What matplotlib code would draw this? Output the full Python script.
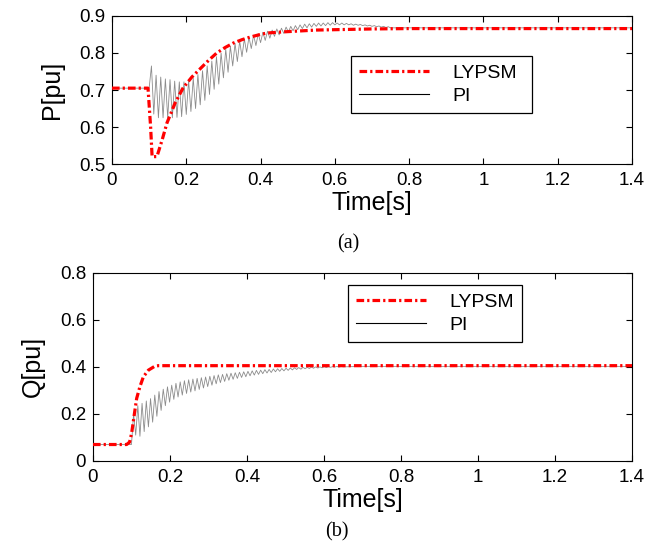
import numpy as np
import matplotlib
matplotlib.use("Agg")
import matplotlib.pyplot as plt

plt.rcParams['font.family'] = ['Liberation Sans', 'DejaVu Sans']
plt.rcParams['lines.scale_dashes'] = False

# ---------------- Data: panel (a) active power P ----------------
p_lyp_t = [0.0, 0.097, 0.104, 0.108, 0.121, 0.135, 0.148, 0.17, 0.191, 0.215, 0.237,
           0.26, 0.282, 0.305, 0.327, 0.35, 0.372, 0.395, 0.417, 0.46, 0.55, 0.7, 0.8, 1.4]
p_lyp_v = [0.705, 0.705, 0.60, 0.52, 0.52, 0.565, 0.611, 0.665, 0.705, 0.735, 0.757,
           0.78, 0.80, 0.815, 0.827, 0.836, 0.843, 0.849, 0.854, 0.857, 0.862, 0.865, 0.866, 0.866]

p_pi_t0 = 0.1      # first sample of the PI extrema sequence
p_pi_dt = 0.00625  # half period of the PI oscillation
p_pi_v = [0.705, 0.765, 0.635, 0.740, 0.625, 0.735, 0.625, 0.730, 0.625, 0.728,
          0.625, 0.724, 0.626, 0.722, 0.628, 0.722, 0.634, 0.726, 0.642, 0.732,
          0.650, 0.742, 0.660, 0.752, 0.672, 0.765, 0.688, 0.778, 0.702, 0.790,
          0.716, 0.800, 0.733, 0.810, 0.748, 0.818, 0.765, 0.826, 0.777, 0.832,
          0.790, 0.838, 0.802, 0.843, 0.812, 0.848, 0.820, 0.852, 0.828, 0.856,
          0.834, 0.859, 0.840, 0.862, 0.845, 0.865, 0.849, 0.867, 0.853, 0.870,
          0.857, 0.872, 0.860, 0.874, 0.863, 0.876, 0.866, 0.878, 0.868, 0.879,
          0.870, 0.880, 0.872, 0.881, 0.873, 0.881, 0.874, 0.882, 0.875, 0.882,
          0.876, 0.881, 0.876, 0.881, 0.876, 0.880, 0.876, 0.879, 0.875, 0.878,
          0.875, 0.877, 0.874, 0.876, 0.873, 0.875, 0.872, 0.874, 0.871, 0.873,
          0.870, 0.872, 0.869, 0.871, 0.868]
p_pi_head_t = [0.0]
p_pi_head_v = [0.705]
p_pi_tail_t = [0.8, 1.4]
p_pi_tail_v = [0.868, 0.868]

# ---------------- Data: panel (b) reactive power Q ----------------
q_lyp_t = [0.0, 0.0875, 0.095, 0.1005, 0.1065, 0.1135, 0.122, 0.131, 0.144, 0.161, 0.17, 1.4]
q_lyp_v = [0.07, 0.07, 0.08, 0.118, 0.188, 0.266, 0.316, 0.358, 0.386, 0.403, 0.405, 0.405]

q_pi_t0 = 0.1
q_pi_dt = 0.0055
q_pi_v = [0.070, 0.200, 0.110, 0.235, 0.105, 0.245, 0.125, 0.255, 0.145, 0.265,
          0.165, 0.280, 0.190, 0.295, 0.215, 0.305, 0.235, 0.315, 0.250, 0.322,
          0.262, 0.330, 0.272, 0.336, 0.280, 0.341, 0.287, 0.345, 0.293, 0.348,
          0.298, 0.351, 0.304, 0.354, 0.310, 0.357, 0.316, 0.360, 0.322, 0.363,
          0.328, 0.366, 0.333, 0.368, 0.338, 0.371, 0.343, 0.373, 0.347, 0.375,
          0.351, 0.377, 0.355, 0.379, 0.358, 0.381, 0.362, 0.383, 0.365, 0.385,
          0.368, 0.386, 0.371, 0.388, 0.374, 0.389, 0.376, 0.391, 0.379, 0.392,
          0.381, 0.393, 0.383, 0.394, 0.385, 0.395, 0.387, 0.396, 0.389, 0.397,
          0.390, 0.398, 0.392, 0.398, 0.393, 0.399, 0.394, 0.400, 0.395, 0.400,
          0.396, 0.401, 0.397, 0.401, 0.398, 0.401, 0.399, 0.402, 0.399, 0.402,
          0.400]
q_pi_head_t = [0.0]
q_pi_head_v = [0.07]
q_pi_tail_t = [0.7, 1.4]
q_pi_tail_v = [0.402, 0.402]

x_ticks = [0, 0.2, 0.4, 0.6, 0.8, 1.0, 1.2, 1.4]
x_ticklabels = ['0', '0.2', '0.4', '0.6', '0.8', '1', '1.2', '1.4']
p_yticks = [0.5, 0.6, 0.7, 0.8, 0.9]
q_yticks = [0, 0.2, 0.4, 0.6, 0.8]
series_names = ['LYPSM', 'PI']


def pi_series(t0, dt, vals, head_t, head_v, tail_t, tail_v):
    t = t0 + dt * np.arange(len(vals))
    return (np.concatenate([head_t, t, tail_t]),
            np.concatenate([head_v, vals, tail_v]))


fig = plt.figure(figsize=(6.65, 5.44), dpi=100)
axA = fig.add_axes([0.1684, 0.6985, 0.782, 0.2721])
axB = fig.add_axes([0.1398, 0.1526, 0.8106, 0.3461])

red_dash = (0, (5.5, 2.2, 1.6, 2.2))

for ax, lt, lv, pit, yt, ylim, ylab, legbox, ylpad in [
    (axA, p_lyp_t, p_lyp_v,
     pi_series(p_pi_t0, p_pi_dt, p_pi_v, p_pi_head_t, p_pi_head_v, p_pi_tail_t, p_pi_tail_v),
     p_yticks, (0.5, 0.9), 'P[pu]', (0.46, 0.351, 0.348, 0.372), 11),
    (axB, q_lyp_t, q_lyp_v,
     pi_series(q_pi_t0, q_pi_dt, q_pi_v, q_pi_head_t, q_pi_head_v, q_pi_tail_t, q_pi_tail_v),
     q_yticks, (0, 0.8), 'Q[pu]', (0.473, 0.643, 0.323, 0.281), 11),
]:
    ax.plot(pit[0], pit[1], color='#8c8c8c', lw=0.6, zorder=2)
    ax.plot(lt, lv, color='#ff0000', lw=2.3, linestyle=red_dash, zorder=3)
    # legend proxies
    h1, = ax.plot([], [], color='#ff0000', lw=2.3, linestyle=red_dash)
    h2, = ax.plot([], [], color='black', lw=0.8)
    leg = ax.legend([h1, h2], series_names, loc='center', bbox_to_anchor=legbox,
                    mode='expand', fontsize=14, handlelength=3.6, handletextpad=1.2,
                    borderaxespad=0, fancybox=False, framealpha=1, edgecolor='black',
                    labelspacing=0.3, borderpad=0.4)
    leg.get_frame().set_linewidth(0.9)
    ax.set_xlim(0, 1.4)
    ax.set_ylim(*ylim)
    ax.set_xticks(x_ticks)
    ax.set_xticklabels(x_ticklabels)
    ax.set_yticks(yt)
    ax.set_yticklabels(['%g' % v for v in yt])
    ax.tick_params(direction='in', top=True, right=True, length=4, width=0.8,
                   labelsize=13.5)
    ax.tick_params(axis='x', pad=6)
    ax.tick_params(axis='y', pad=5)
    for s in ax.spines.values():
        s.set_linewidth(0.8)
    ax.set_xlabel('Time[s]', fontsize=18, labelpad=1)
    ax.set_ylabel(ylab, fontsize=18, labelpad=ylpad)

fig.text(0.524, 0.552, '(a)', ha='center', va='center', fontsize=14.5,
         family=['Liberation Serif', 'DejaVu Serif'])
fig.text(0.507, 0.023, '(b)', ha='center', va='center', fontsize=14.5,
         family=['Liberation Serif', 'DejaVu Serif'])

fig.savefig('out.png', dpi=100)
